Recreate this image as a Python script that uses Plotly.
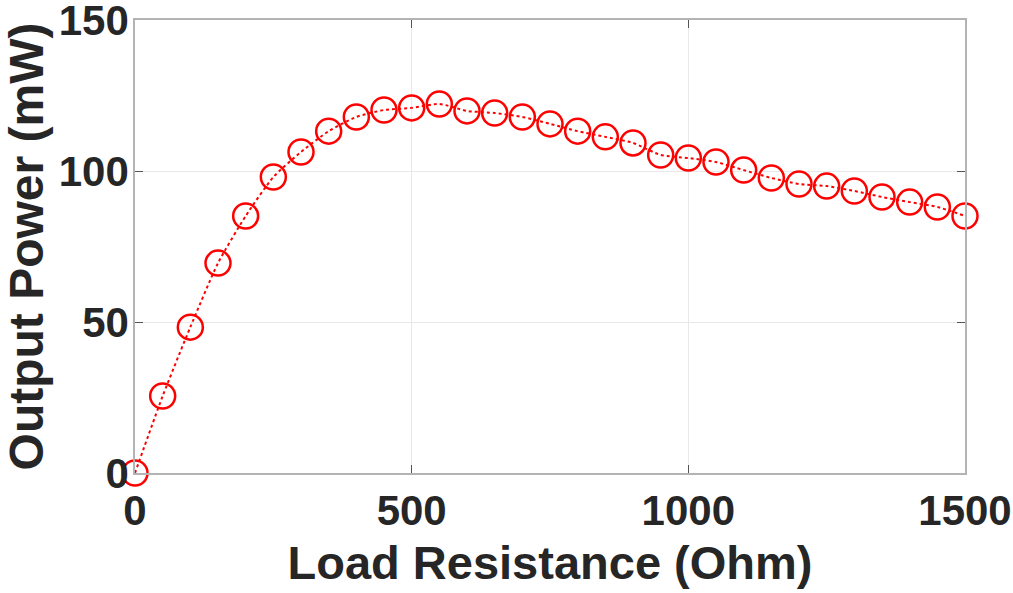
import plotly.graph_objects as go

resistance_ohm = [0, 50, 100, 150, 200, 250, 300, 350, 400, 450, 500, 550, 600, 650, 700,
                  750, 800, 850, 900, 950, 1000, 1050, 1100, 1150, 1200, 1250, 1300, 1350,
                  1400, 1450, 1500]
power_mw = [0, 25.5, 48.3, 69.5, 85.1, 98.0, 106.3, 113.2, 117.9, 120.2, 120.9, 122.2,
            119.9, 119.2, 117.9, 115.6, 113.2, 111.3, 109.3, 105.3, 104.3, 103.0, 100.3,
            97.7, 95.7, 95.0, 93.4, 91.4, 89.7, 88.1, 85.1]

x_ticks = [0, 500, 1000, 1500]
y_ticks = [0, 50, 100, 150]

red = "#ff0000"
txt = "#262626"
font_family = "Liberation Sans, Arial, Helvetica, sans-serif"

fig = go.Figure()
fig.add_trace(go.Scatter(
    x=resistance_ohm, y=power_mw,
    mode="lines+markers",
    line=dict(color=red, width=2, dash="dot", shape="spline", smoothing=0.6),
    marker=dict(symbol="circle-open", size=25, color=red, line=dict(width=2.5, color=red)),
    cliponaxis=False,
    showlegend=False,
))

axis_common = dict(
    showline=True, linecolor="#b3b3b3", linewidth=1.5, mirror="ticks",
    showgrid=True, gridcolor="#e8e8e8", gridwidth=1,
    ticks="inside", ticklen=8, tickcolor="#555555", tickwidth=1,
    zeroline=False, automargin=False, ticklabeloverflow="allow",
    tickfont=dict(family=font_family, size=42, color=txt, weight="bold"),
)

fig.update_layout(
    width=1013, height=593,
    margin=dict(l=135, r=48, t=20, b=120),
    paper_bgcolor="white", plot_bgcolor="white",
    font=dict(family=font_family, color=txt),
    xaxis=dict(
        range=[0, 1500], tickvals=x_ticks, ticktext=[str(v) for v in x_ticks],
        title=dict(text="Load Resistance (Ohm)", standoff=13,
                   font=dict(family=font_family, size=47, color=txt, weight="bold")),
        **axis_common,
    ),
    yaxis=dict(
        range=[0, 150], tickvals=y_ticks, ticktext=[str(v) for v in y_ticks],
        ticklabelstandoff=-4,
        title=dict(text="Output Power (mW)", standoff=6,
                   font=dict(family=font_family, size=48, color=txt, weight="bold")),
        **axis_common,
    ),
)

fig.write_html("out.html", config={"displayModeBar": False},
               post_script="document.body.style.margin='0';")
